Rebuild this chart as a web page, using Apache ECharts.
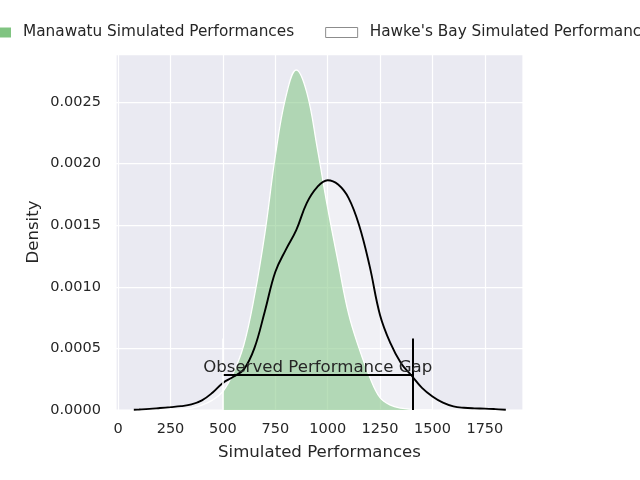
<!DOCTYPE html>
<html lang="en">
<head>
    <meta charset="UTF-8">
    <title>Simulated Performances</title>
    <style>
        html, body { margin: 0; padding: 0; background: #fff; }
        #chart { width: 640px; height: 480px; }
    </style>
</head>
<body>
    <div id="chart"></div>

    <script src="https://cdn.jsdelivr.net/npm/echarts@6/dist/echarts.min.js"></script>
    <script>
        // KDE of Hawke's Bay (black line)
        var hbX = [75, 100, 150, 200, 250, 300, 350, 400, 450, 500, 550, 600, 650, 700, 750, 800, 850, 900, 950,
                   1000, 1050, 1100, 1150, 1200, 1250, 1300, 1350, 1400, 1450, 1500, 1550, 1600, 1650, 1700, 1750, 1800, 1850];
        var hbY = [0.000002, 0.000004, 0.000009, 0.000016, 0.000023, 0.000031, 0.000045, 0.000078, 0.00014, 0.00022,
                   0.00027, 0.00033, 0.0005, 0.0008, 0.00112, 0.0013, 0.00146, 0.00168, 0.00181,
                   0.001865, 0.00183, 0.00172, 0.0015, 0.00117, 0.00077, 0.00054, 0.00038, 0.00028, 0.00018, 0.00011,
                   0.00006, 0.00003, 0.000018, 0.000013, 0.000011, 0.000007, 0.000002];

        // KDE of Manawatu (green fill)
        var mwX = [150, 200, 250, 300, 350, 400, 450, 500, 550, 600, 650, 700, 750, 800, 850, 900, 950,
                   1000, 1050, 1100, 1150, 1200, 1250, 1300, 1350, 1400, 1450, 1500];
        var mwY = [0.000001, 0.000002, 0.000004, 0.000007, 0.000015, 0.00004, 0.00008, 0.00015, 0.0003, 0.00053,
                   0.00092, 0.00143, 0.00206, 0.00254, 0.00276, 0.00258, 0.00213,
                   0.00164, 0.0012, 0.00078, 0.0005, 0.00027, 0.0001, 0.00004, 0.000015, 0.000005, 0.000001, 0];

        // observed gap annotation: [start, end], line height, tick height
        var gapX = [500, 1405];
        var gapY = 0.00029;
        var gapTop = 0.00058;
        var gapText = 'Observed Performance Gap';

        var xTicks = [0, 250, 500, 750, 1000, 1250, 1500, 1750];
        var seriesNames = ['Manawatu Simulated Performances', "Hawke's Bay Simulated Performances"];

        var textColor = '#262626';
        var font = 'DejaVu Sans';

        function pairs(xs, ys) {
            return xs.map(function(x, i) { return [x, ys[i]]; });
        }
        var hbData = pairs(hbX, hbY);
        var mwData = pairs(mwX, mwY);
        var mwFill = mwData.filter(function(p) { return p[0] >= gapX[0]; });

        var chart = echarts.init(document.getElementById('chart'));

        var option = {
            animation: false,
            textStyle: { fontFamily: font, color: textColor },
            grid: {
                left: 116, right: 117, top: 54, bottom: 70,
                show: true,
                backgroundColor: '#eaeaf2',
                borderColor: '#ffffff',
                borderWidth: 1.25
            },
            legend: {
                left: -21,
                top: 25,
                width: 900,
                padding: 0,
                itemWidth: 32,
                itemHeight: 10,
                itemGap: 31,
                textStyle: { fontSize: 15.3, color: textColor, fontFamily: font, padding: [0, 0, 0, 7] },
                data: [
                    { name: seriesNames[0], icon: 'rect', itemStyle: { color: '#80c481', borderWidth: 0 } },
                    { name: seriesNames[1], icon: 'rect', itemStyle: { color: '#ffffff', borderColor: '#8c8c8c', borderWidth: 1 } }
                ]
            },
            xAxis: {
                type: 'value',
                min: -10,
                max: 1932,
                name: 'Simulated Performances',
                nameLocation: 'middle',
                nameGap: 34.5,
                nameTextStyle: { fontSize: 16.6, color: textColor, fontFamily: font },
                axisLine: { show: false },
                axisTick: { show: false, customValues: xTicks },
                axisLabel: {
                    fontSize: 14.5, color: textColor, margin: 12, customValues: xTicks,
                    formatter: function(v) { return String(v); }
                },
                splitLine: { show: true, customValues: xTicks, lineStyle: { color: '#ffffff', width: 1.25 } }
            },
            yAxis: {
                type: 'value',
                min: 0,
                max: 0.00289,
                interval: 0.0005,
                name: 'Density',
                nameLocation: 'middle',
                nameGap: 74,
                nameMoveOverlap: false,
                nameTextStyle: { fontSize: 16.6, color: textColor, fontFamily: font },
                axisLine: { show: false },
                axisTick: { show: false },
                axisLabel: {
                    fontSize: 14.5, color: textColor, margin: 15, showMaxLabel: false,
                    formatter: function(v) { return v.toFixed(4); }
                },
                splitLine: { show: true, lineStyle: { color: '#ffffff', width: 1.25 } }
            },
            series: [
                {
                    // light fill under Hawke's Bay curve
                    name: 'hb-fill',
                    type: 'line',
                    data: hbData,
                    smooth: 0.4,
                    showSymbol: false,
                    silent: true,
                    lineStyle: { width: 0 },
                    areaStyle: { color: '#ffffff', opacity: 0.28 },
                    z: 1
                },
                {
                    name: seriesNames[0],
                    type: 'line',
                    data: mwFill,
                    smooth: 0.4,
                    showSymbol: false,
                    itemStyle: { color: '#80c481' },
                    lineStyle: { width: 0 },
                    areaStyle: { color: '#80c481', opacity: 0.55 },
                    z: 2
                },
                {
                    // white edge of Manawatu KDE
                    name: 'mw-edge',
                    type: 'line',
                    data: mwData,
                    smooth: 0.4,
                    showSymbol: false,
                    silent: true,
                    lineStyle: { color: '#ffffff', width: 1.3 },
                    z: 3
                },
                {
                    name: seriesNames[1],
                    type: 'line',
                    data: hbData,
                    smooth: 0.4,
                    showSymbol: false,
                    itemStyle: { color: '#ffffff' },
                    lineStyle: { color: '#000000', width: 1.9 },
                    z: 4,
                    markLine: {
                        silent: true,
                        symbol: ['none', 'none'],
                        animation: false,
                        data: [
                            [
                                { coord: [gapX[0], gapY], lineStyle: { color: '#000000', width: 2, type: 'solid' },
                                  label: { show: true, position: 'middle', formatter: gapText, distance: -2,
                                           fontSize: 16.6, color: textColor, fontFamily: font } },
                                { coord: [gapX[1], gapY] }
                            ],
                            [
                                { coord: [gapX[1], 0], lineStyle: { color: '#000000', width: 2, type: 'solid' }, label: { show: false } },
                                { coord: [gapX[1], gapTop] }
                            ],
                            [
                                { coord: [gapX[0], 0], lineStyle: { color: '#ffffff', width: 1.6, type: 'solid' }, label: { show: false } },
                                { coord: [gapX[0], gapTop] }
                            ]
                        ]
                    }
                }
            ]
        };

        chart.setOption(option);
    </script>
</body>
</html>
